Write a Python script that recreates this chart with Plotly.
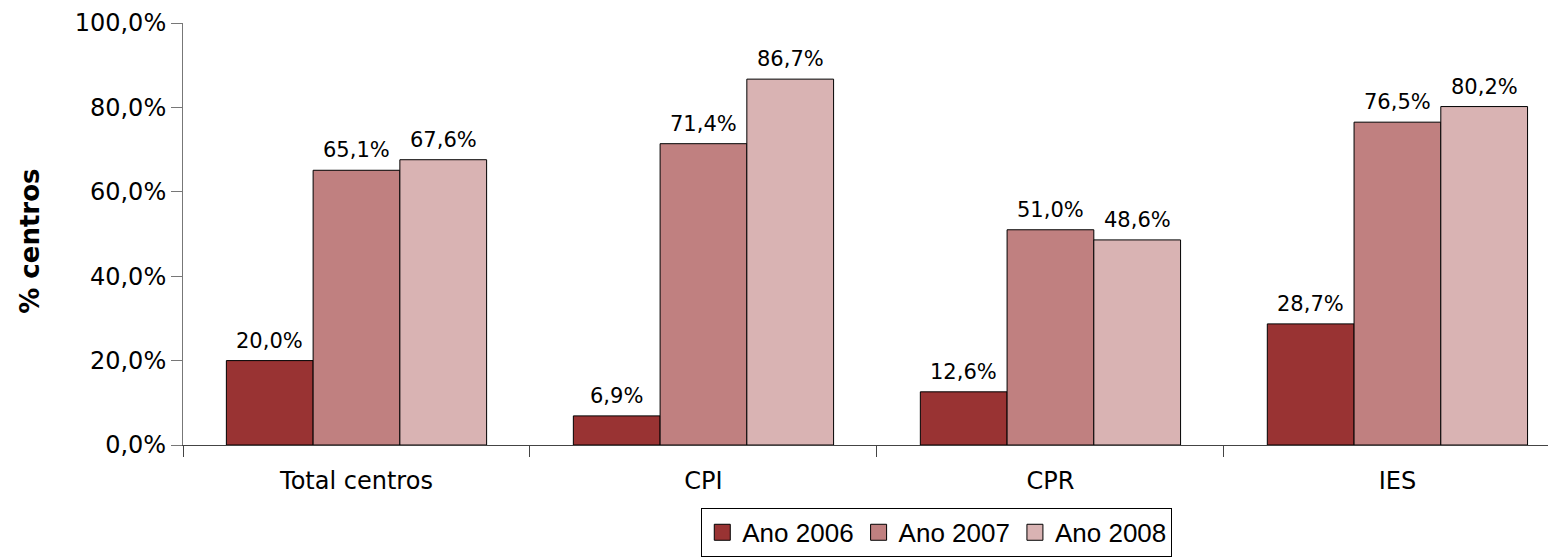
import plotly.graph_objects as go

categorias = ['Total centros', 'CPI', 'CPR', 'IES']
ano_2006 = [20.0, 6.9, 12.6, 28.7]
ano_2007 = [65.1, 71.4, 51.0, 76.5]
ano_2008 = [67.6, 86.7, 48.6, 80.2]
y_ticks = [0, 20, 40, 60, 80, 100]


def fmt(v):
    return f'{v:.1f}'.replace('.', ',') + '%'


series = [
    ('Ano 2006', ano_2006, '#993333'),
    ('Ano 2007', ano_2007, '#C08080'),
    ('Ano 2008', ano_2008, '#D9B3B3'),
]

bargap = 0.25
largura = (1 - bargap) / len(series)

fig = go.Figure()
for nome, valores, cor in series:
    fig.add_trace(go.Bar(
        x=categorias, y=valores, name=nome, showlegend=False,
        marker=dict(color=cor, line=dict(color='#000000', width=1)),
    ))

# entradas da legenda com quadrados maiores
for nome, valores, cor in series:
    fig.add_trace(go.Scatter(
        x=[None], y=[None], mode='markers', name=nome,
        marker=dict(symbol='square', size=16, color=cor,
                    line=dict(color='#000000', width=1)),
    ))

# rótulos de valor acima das barras
rotulos = []
for k, (nome, valores, cor) in enumerate(series):
    desloc = (k - (len(series) - 1) / 2) * largura
    for i, v in enumerate(valores):
        rotulos.append(dict(
            x=i + desloc, y=v, xref='x', yref='y', text=fmt(v),
            showarrow=False, yanchor='bottom', yshift=6,
            font=dict(family='DejaVu Sans', size=21, color='#000000'),
        ))

rotulos.append(dict(
    text='<b>% centros</b>', textangle=-90, showarrow=False,
    xref='paper', yref='paper', x=-0.111, y=0.483,
    xanchor='center', yanchor='middle',
    font=dict(family='DejaVu Sans', size=26, color='#000000'),
))

# a página tem margem de 8px no body
fig.update_layout(
    width=1556, height=557,
    margin=dict(l=175, r=8, t=15, b=118),
    paper_bgcolor='white', plot_bgcolor='white',
    barmode='group', bargap=bargap, bargroupgap=0,
    font=dict(family='DejaVu Sans', size=24, color='#000000'),
    showlegend=True,
    legend=dict(
        orientation='h', x=0.549, xanchor='center', y=-0.149, yanchor='top',
        bordercolor='#000000', borderwidth=1,
        font=dict(family='Liberation Sans', size=26, color='#000000'),
        tracegroupgap=0,
    ),
    annotations=rotulos,
)

fig.update_xaxes(
    range=[-0.5, 3.457], showline=True, linecolor='#444444', linewidth=1,
    ticks='outside', tickson='boundaries', ticklen=11, tickcolor='#444444',
    ticklabelstandoff=14,
    showgrid=False, tickfont=dict(size=24), automargin=False,
)
fig.update_yaxes(
    range=[0, 100], tickvals=y_ticks, ticktext=[fmt(v) for v in y_ticks],
    showline=True, linecolor='#777777', linewidth=1,
    ticks='outside', ticklen=11, tickcolor='#777777',
    showgrid=False, zeroline=False, tickfont=dict(size=24), automargin=False,
)

fig.write_html('out.html')
